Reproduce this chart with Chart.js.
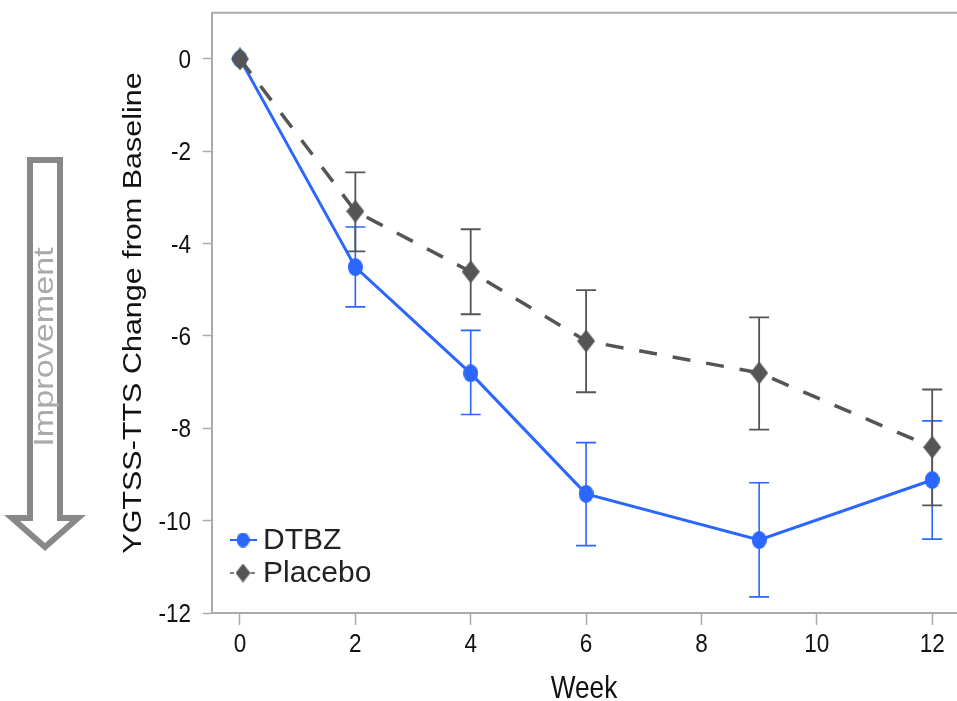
<!DOCTYPE html>
<html>
<head>
<meta charset="utf-8">
<script src="https://cdn.jsdelivr.net/npm/chart.js@4/dist/chart.umd.min.js"></script>
<style>
  body { margin: 0; background: #fff; }
  #wrap { width: 957px; height: 701px; }
</style>
</head>
<body>
<div id="wrap"><canvas id="myChart" width="957" height="701"></canvas></div>
<script>
// values
const weeks = [0, 2, 4, 6, 9, 12];
const dtbzMean = [0, -4.51, -6.81, -9.42, -10.42, -9.12];
const dtbzLow = [null, -5.37, -7.70, -10.54, -11.65, -10.40];
const dtbzHigh = [null, -3.64, -5.88, -8.31, -9.18, -7.84];
const placeboMean = [0, -3.30, -4.61, -6.11, -6.80, -8.41];
const placeboLow = [null, -4.17, -5.53, -7.22, -8.03, -9.67];
const placeboHigh = [null, -2.46, -3.69, -5.01, -5.60, -7.16];
const xTicks = [0, 2, 4, 6, 8, 10, 12];
const yTicks = [-12, -10, -8, -6, -4, -2, 0];
const seriesNames = ['DTBZ', 'Placebo'];

const BLUE = '#2a66ff';
const GREY = '#555555';
const AXIS = '#aaaaaa';
const SANS = '"Liberation Sans", Arial, sans-serif';
const STRETCH = 1.22; // the figure is stretched vertically

const makeMarker = (kind, w, h, color) => {
    const c = document.createElement('canvas');
    c.width = w; c.height = h;
    const g = c.getContext('2d');
    g.fillStyle = color;
    g.beginPath();
    if (kind === 'circle') {
        g.ellipse(w / 2, h / 2, w / 2, h / 2, 0, 0, Math.PI * 2);
    } else {
        g.moveTo(w / 2, 0); g.lineTo(w, h / 2); g.lineTo(w / 2, h); g.lineTo(0, h / 2); g.closePath();
    }
    g.fill();
    return c;
};

const circleBig = makeMarker('circle', 15, 18, BLUE);
const diamondBig = makeMarker('diamond', 18, 23, GREY);
const circleSmall = makeMarker('circle', 13, 15, BLUE);
const diamondSmall = makeMarker('diamond', 15, 19, GREY);

const toPoints = (ys) => weeks.map((w, i) => ({x: w, y: ys[i]}));

// text squeezed horizontally (or stretched along its direction when rotated)
const drawText = (ctx, text, x, y, size, color, align, baseline, angle, sx) => {
    ctx.save();
    ctx.translate(x, y);
    if (angle) ctx.rotate(angle);
    ctx.scale(sx, 1);
    ctx.fillStyle = color;
    ctx.font = size + 'px ' + SANS;
    ctx.textAlign = align;
    ctx.textBaseline = baseline;
    ctx.fillText(text, 0, 0);
    ctx.restore();
};

const errorBars = {
    id: 'errorBars',
    beforeDatasetsDraw(chart) {
        const {ctx, scales: {x, y}} = chart;
        const sets = [[dtbzLow, dtbzHigh, BLUE, 1.6], [placeboLow, placeboHigh, GREY, 1.8]];
        ctx.save();
        sets.forEach(([lo, hi, color, lw]) => {
            ctx.strokeStyle = color;
            ctx.lineWidth = lw;
            weeks.forEach((w, i) => {
                if (lo[i] == null) return;
                const px = x.getPixelForValue(w);
                const y1 = y.getPixelForValue(lo[i]);
                const y2 = y.getPixelForValue(hi[i]);
                ctx.beginPath();
                ctx.moveTo(px, y1); ctx.lineTo(px, y2);
                ctx.moveTo(px - 10, y1); ctx.lineTo(px + 10, y1);
                ctx.moveTo(px - 10, y2); ctx.lineTo(px + 10, y2);
                ctx.stroke();
            });
        });
        ctx.restore();
    }
};

const decorations = {
    id: 'decorations',
    afterDraw(chart) {
        const {ctx, chartArea, scales: {x, y}} = chart;
        ctx.save();
        // frame line on top
        ctx.strokeStyle = AXIS;
        ctx.lineWidth = 2;
        ctx.beginPath();
        ctx.moveTo(chartArea.left, chartArea.top);
        ctx.lineTo(chartArea.right, chartArea.top);
        ctx.stroke();

        // tick labels and axis titles
        yTicks.forEach(v => drawText(ctx, String(v), 191, y.getPixelForValue(v) + 9, 25, '#111', 'right', 'alphabetic', 0, 0.9));
        xTicks.forEach(v => drawText(ctx, String(v), x.getPixelForValue(v), 652, 25, '#111', 'center', 'alphabetic', 0, 0.9));
        drawText(ctx, 'Week', 584, 698, 32, '#111', 'center', 'alphabetic', 0, 1 / STRETCH);
        drawText(ctx, 'YGTSS-TTS Change from Baseline', 134, 313, 25, '#111', 'center', 'middle', -Math.PI / 2, STRETCH);

        // improvement arrow
        ctx.strokeStyle = '#888';
        ctx.lineWidth = 6;
        ctx.lineJoin = 'miter';
        ctx.beginPath();
        ctx.moveTo(30, 160);
        ctx.lineTo(60, 160);
        ctx.lineTo(60, 518);
        ctx.lineTo(78, 518);
        ctx.lineTo(45, 547);
        ctx.lineTo(12, 518);
        ctx.lineTo(30, 518);
        ctx.closePath();
        ctx.stroke();
        drawText(ctx, 'Improvement', 45, 347, 28, '#aaaaaa', 'center', 'middle', -Math.PI / 2, STRETCH);

        // legend
        const rows = [[540, BLUE, [], 2, circleSmall], [573, GREY, [4, 3], 1.5, diamondSmall]];
        rows.forEach(([ly, color, dash, lw, img], i) => {
            ctx.strokeStyle = color;
            ctx.lineWidth = lw;
            ctx.setLineDash(dash);
            ctx.beginPath();
            ctx.moveTo(230, ly); ctx.lineTo(257, ly);
            ctx.stroke();
            ctx.setLineDash([]);
            ctx.drawImage(img, 243 - img.width / 2, ly - img.height / 2);
            drawText(ctx, seriesNames[i], 263, ly + 1, 30, '#222', 'left', 'middle', 0, 1);
        });
        ctx.restore();
    }
};

new Chart(document.getElementById('myChart'), {
    type: 'line',
    data: {
        datasets: [
            {
                label: seriesNames[1],
                data: toPoints(placeboMean),
                borderColor: GREY,
                borderWidth: 3.5,
                borderDash: [18, 16],
                pointStyle: diamondBig,
                pointRadius: 9,
                fill: false
            },
            {
                label: seriesNames[0],
                data: toPoints(dtbzMean),
                borderColor: BLUE,
                borderWidth: 3,
                pointStyle: circleBig,
                pointRadius: 8,
                fill: false
            }
        ]
    },
    options: {
        responsive: false,
        animation: false,
        devicePixelRatio: 1,
        layout: { autoPadding: false, padding: { top: 12.7, right: 0, left: 0, bottom: 0 } },
        plugins: { legend: { display: false }, tooltip: { enabled: false } },
        scales: {
            x: {
                type: 'linear',
                min: -0.49,
                max: 12.43,
                afterBuildTicks: (s) => { s.ticks = xTicks.map(v => ({value: v})); },
                afterFit: (s) => { s.height = 88; s.paddingLeft = 0; s.paddingRight = 0; },
                grid: { drawOnChartArea: false, tickLength: 12, color: AXIS, tickWidth: 1.5 },
                border: { color: AXIS, width: 2 },
                ticks: { color: 'rgba(0,0,0,0)', font: { size: 1 }, maxRotation: 0 }
            },
            y: {
                min: -12,
                max: 1,
                afterBuildTicks: (s) => { s.ticks = yTicks.map(v => ({value: v})); },
                afterFit: (s) => { s.width = 211.7; s.paddingTop = 0; s.paddingBottom = 0; },
                grid: { drawOnChartArea: false, tickLength: 9, color: AXIS, tickWidth: 1.5 },
                border: { color: AXIS, width: 2 },
                ticks: { color: 'rgba(0,0,0,0)', font: { size: 1 } }
            }
        }
    },
    plugins: [errorBars, decorations]
});
</script>
</body>
</html>
